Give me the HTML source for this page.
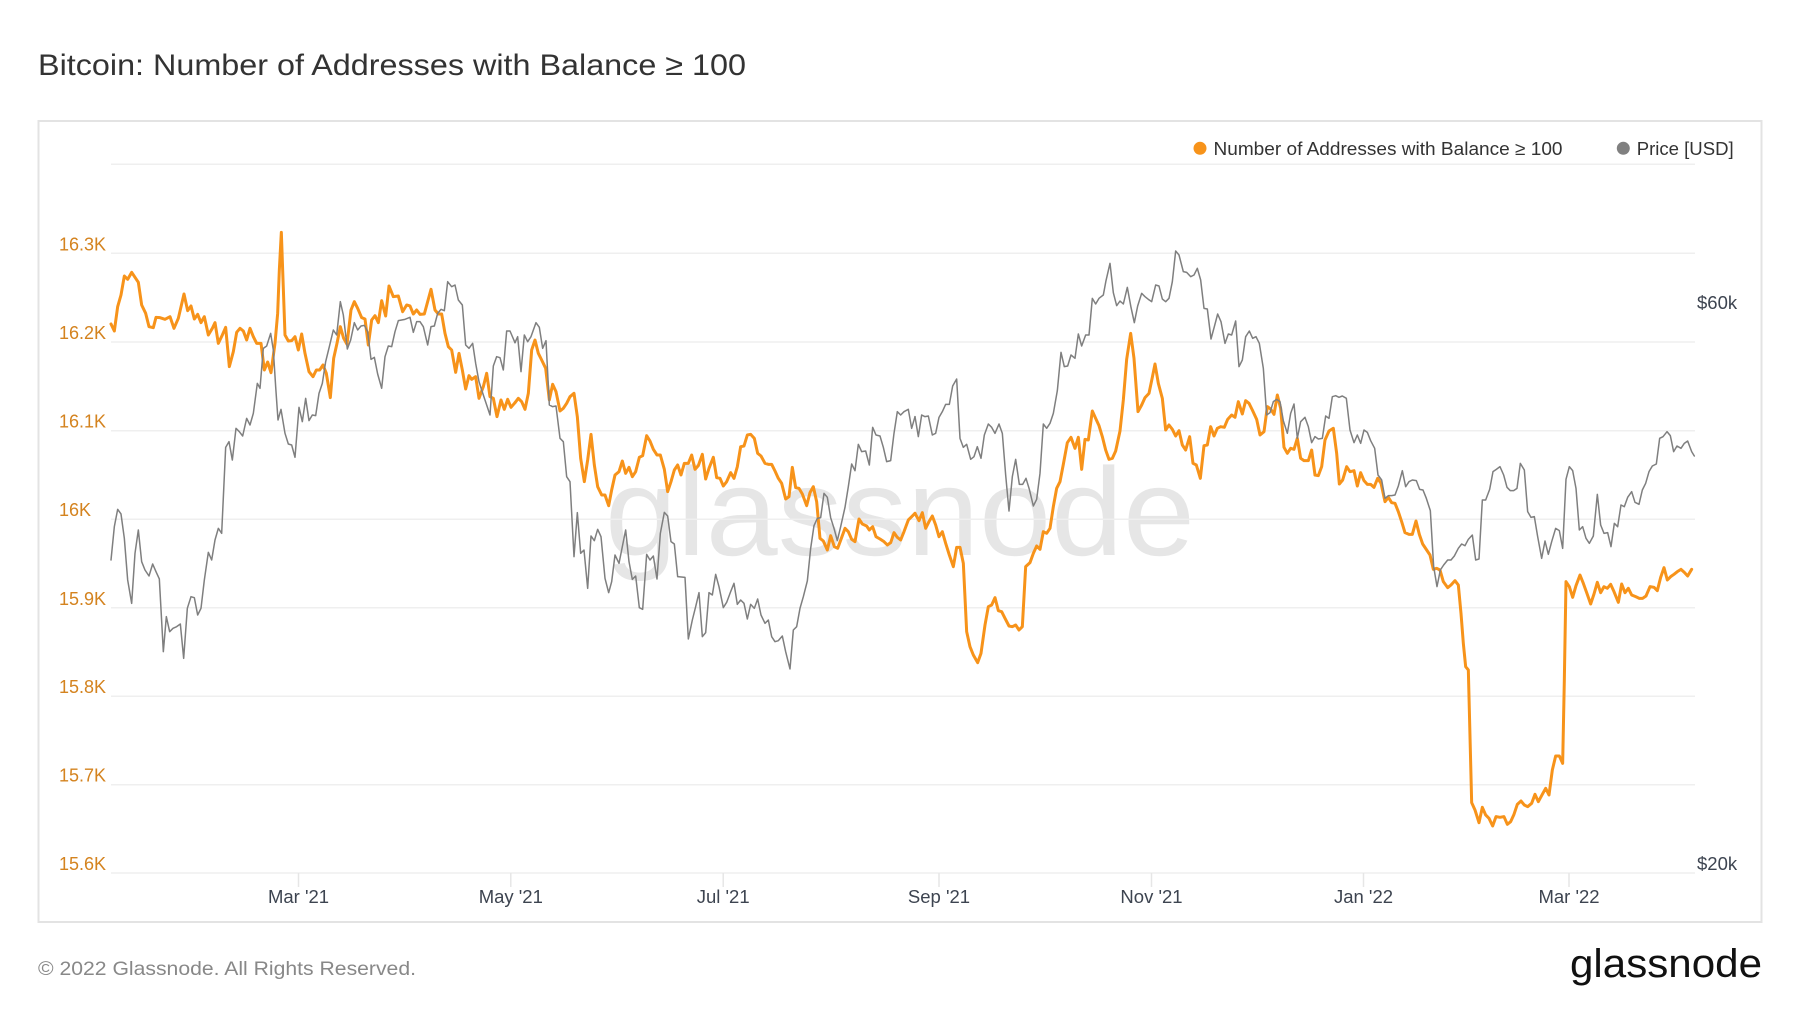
<!DOCTYPE html>
<html>
<head>
<meta charset="utf-8">
<style>
  html, body { margin: 0; padding: 0; background: #ffffff; }
  body { width: 1800px; height: 1013px; overflow: hidden; }
  svg { display: block; font-family: "Liberation Sans", Arial, sans-serif; }
</style>
</head>
<body>
<svg width="1800" height="1013" viewBox="0 0 1800 1013" xmlns="http://www.w3.org/2000/svg">
  <rect x="0" y="0" width="1800" height="1013" fill="#ffffff"/>

  <!-- Title -->
  <text x="38" y="75" font-size="30" fill="#333333" textLength="708" lengthAdjust="spacingAndGlyphs">Bitcoin: Number of Addresses with Balance ≥ 100</text>

  <!-- Frame -->
  <rect x="38.5" y="121" width="1723" height="801" fill="#ffffff" stroke="#e3e3e3" stroke-width="2"/>

  <!-- Watermark -->
  <text x="605" y="555" font-size="125" fill="#e6e6e6" textLength="590" lengthAdjust="spacingAndGlyphs">glassnode</text>

  <!-- Gridlines -->
  <g stroke="#efefef" stroke-width="1.5">
    <line x1="111" y1="164.2" x2="1695" y2="164.2"/>
    <line x1="111" y1="253.3" x2="1695" y2="253.3"/>
    <line x1="111" y1="342" x2="1695" y2="342"/>
    <line x1="111" y1="430.7" x2="1695" y2="430.7"/>
    <line x1="111" y1="519.2" x2="1695" y2="519.2"/>
    <line x1="111" y1="607.8" x2="1695" y2="607.8"/>
    <line x1="111" y1="696.2" x2="1695" y2="696.2"/>
    <line x1="111" y1="784.7" x2="1695" y2="784.7"/>
    <line x1="111" y1="873" x2="1695" y2="873"/>
  </g>

  <!-- X ticks -->
  <g stroke="#e6e6e6" stroke-width="1.5">
    <line x1="298.5" y1="873" x2="298.5" y2="887"/>
    <line x1="510.8" y1="873" x2="510.8" y2="887"/>
    <line x1="723.2" y1="873" x2="723.2" y2="887"/>
    <line x1="939" y1="873" x2="939" y2="887"/>
    <line x1="1151.5" y1="873" x2="1151.5" y2="887"/>
    <line x1="1363.5" y1="873" x2="1363.5" y2="887"/>
    <line x1="1569" y1="873" x2="1569" y2="887"/>
  </g>

  <!-- X labels -->
  <g font-size="18.5" fill="#3d4450" text-anchor="middle">
    <text x="298.5" y="903">Mar '21</text>
    <text x="510.8" y="903">May '21</text>
    <text x="723.2" y="903">Jul '21</text>
    <text x="939" y="903">Sep '21</text>
    <text x="1151.5" y="903">Nov '21</text>
    <text x="1363.5" y="903">Jan '22</text>
    <text x="1569" y="903">Mar '22</text>
  </g>

  <!-- Left axis labels -->
  <g font-size="18" fill="#d4831f">
    <text x="59" y="250.5">16.3K</text>
    <text x="59" y="339">16.2K</text>
    <text x="59" y="427.7">16.1K</text>
    <text x="59" y="516.2">16K</text>
    <text x="59" y="604.8">15.9K</text>
    <text x="59" y="693.2">15.8K</text>
    <text x="59" y="781.7">15.7K</text>
    <text x="59" y="870">15.6K</text>
  </g>

  <!-- Right axis labels -->
  <g font-size="18.5" fill="#3d4450">
    <text x="1697" y="309">$60k</text>
    <text x="1697" y="870">$20k</text>
  </g>

  <!-- Legend -->
  <circle cx="1200" cy="148.3" r="6.5" fill="#f7931a"/>
  <text x="1213.5" y="155" font-size="18.5" fill="#333333" textLength="349" lengthAdjust="spacingAndGlyphs">Number of Addresses with Balance ≥ 100</text>
  <circle cx="1623.3" cy="148.3" r="6.5" fill="#808080"/>
  <text x="1636.7" y="155" font-size="18.5" fill="#333333" textLength="97" lengthAdjust="spacingAndGlyphs">Price [USD]</text>

  <!-- ORANGE series -->
  <g fill="none" stroke="#f7931a" stroke-width="3" stroke-linejoin="round" stroke-linecap="round">
    <polyline vector-effect="non-scaling-stroke" transform="translate(105,220) scale(0.33333)" points="18,312 28,333 38,260 48,225 58,168 68,178 80,157 90,172 100,187 110,255 122,280 132,320 145,323 153,292 165,293 180,298 195,290 207,325 220,295 237,222 248,272 258,258 268,297 278,283 288,308 298,290 310,345 322,325 330,308 340,370 352,345 362,322 373,440 385,395 395,337 405,325 415,333 425,360 435,325 445,350 455,370 468,370 478,450 488,426 498,458 510,370 518,280 523,150 529,37 533,150 540,345 550,363 560,362 570,350 580,390 590,342 600,400 612,455 624,470 634,450 644,450 654,435 664,460 676,533 686,415 696,370 706,320 716,355 726,373 738,270 748,245 758,265 770,293 780,297 790,375 800,300 810,287 820,308 830,242 842,288 852,198 865,230 880,228 893,275 905,255 915,258 925,282 935,270 945,283 958,282 968,245 978,208 990,270 1000,282 1010,282 1020,340 1030,380 1040,390 1052,457 1062,400 1072,450 1082,507 1092,467 1100,478 1112,470 1122,535 1135,500 1145,460 1155,530 1165,535 1176,590 1188,540 1198,568 1208,538 1218,562 1230,548"/>
    <polyline vector-effect="non-scaling-stroke" transform="translate(505,220) scale(0.33333)" points="30,548 40,535 50,545 60,568 70,520 80,390 90,360 100,400 110,420 122,445 133,540 143,493 153,515 165,573 175,565 185,550 195,530 207,520 217,590 227,715 238,785 248,720 258,643 268,735 278,800 290,825 300,825 311,857 320,810 330,765 342,755 352,723 362,760 372,742 382,770 392,755 403,712 413,707 425,647 435,663 445,688 456,705 466,705 478,748 488,815 498,785 508,750 518,735 528,765 538,730 550,730 560,705 570,748 580,737 592,703 602,777 612,745 625,712 635,773 645,775 655,798 665,785 677,758 687,775 697,740 707,680 717,678 727,645 737,643 748,655 758,700 768,708 780,730 790,733 800,733 810,753 820,775 830,790 842,837 852,830 862,742 872,803 882,805 892,822 905,857 915,818 925,800 935,845 945,955 955,963 967,990 977,947 988,980 998,985 1008,958 1020,925 1030,935 1040,958 1050,965 1062,897 1072,912 1085,918 1093,930 1103,920 1113,950 1125,957 1137,965 1147,975 1157,968 1167,938 1177,952 1187,960 1197,935 1210,900 1220,890 1230,880"/>
    <polyline vector-effect="non-scaling-stroke" transform="translate(905,220) scale(0.33333)" points="30,880 42,902 52,878 62,925 72,905 82,888 92,915 102,950 112,935 122,970 133,1005 145,1040 155,982 165,982 175,1030 185,1235 195,1280 205,1305 218,1328 228,1300 240,1215 250,1160 260,1155 270,1133 280,1172 290,1175 300,1195 312,1218 322,1220 332,1215 342,1230 352,1220 362,1040 375,1028 385,1000 395,978 405,988 415,935 425,940 435,925 445,860 455,805 465,785 475,733 487,668 498,652 510,685 520,652 530,748 540,658 550,660 562,573 572,595 582,617 592,650 602,690 612,718 622,715 632,693 645,633 655,540 665,418 677,340 687,415 699,575 710,555 720,533 732,520 742,472 750,432 760,490 772,535 782,630 792,615 802,628 812,648 822,632 832,675 842,690 854,650 864,730 874,735 886,775 897,677 907,675 917,620 927,648 937,625 947,620 958,622 968,598 980,585 990,592 1000,545 1012,582 1022,542 1032,550 1042,570 1055,598 1065,645 1077,635 1087,560 1097,567 1107,583 1117,525 1127,565 1137,682 1147,700 1157,685 1167,688 1177,655 1187,715 1197,722 1210,722 1220,690 1230,765"/>
    <polyline vector-effect="non-scaling-stroke" transform="translate(1305,380) scale(0.33333)" points="30,285 40,287 50,260 60,180 72,153 85,145 95,220 103,312 113,300 125,260 135,275 147,272 157,318 167,278 177,302 187,313 197,313 207,322 218,295 228,310 240,365 250,352 260,368 270,370 280,395 290,425 300,458 312,463 322,463 333,423 343,463 353,492 363,507 375,525 385,568 395,565 405,570 415,605 428,623 438,615 450,602 460,615 468,700 475,790 482,860 490,870 500,1268 510,1290 522,1328 532,1282 542,1305 552,1315 563,1338 573,1310 585,1312 597,1310 607,1333 617,1325 627,1303 637,1273 648,1263 658,1275 668,1280 680,1270 690,1243 700,1265 712,1243 722,1225 732,1245 742,1170 752,1128 763,1128 773,1150 778,900 783,605 793,620 803,652 813,617 825,585 835,610 845,638 857,672 867,642 877,607 887,638 897,620 907,625 917,613 927,635 940,667 950,612 960,638 970,625 980,645 992,650 1003,655 1013,655 1023,648 1035,620 1047,622 1057,632 1067,592 1077,563 1087,600 1097,590 1107,583 1117,575 1128,568 1138,577 1148,588 1160,568"/>
  </g>

  <!-- GRAY price series -->
  <g fill="none" stroke="#7f7f7f" stroke-width="1.5" stroke-linejoin="round" stroke-linecap="round">
    <polyline vector-effect="non-scaling-stroke" transform="translate(105,220) scale(0.33333)" points="18,1020 28,920 38,868 48,882 58,955 68,1080 80,1150 90,1000 100,930 110,1025 120,1050 132,1068 143,1032 153,1055 163,1077 175,1295 184,1190 194,1235 204,1225 215,1220 226,1212 236,1315 247,1165 258,1130 268,1133 278,1185 288,1165 298,1080 310,997 320,1020 330,960 340,925 350,940 362,682 372,665 382,720 393,625 403,635 413,648 425,595 435,615 445,580 457,490 465,505 475,385 485,378 497,340 505,390 512,500 519,600 528,568 540,640 550,672 560,675 570,712 582,562 592,605 602,535 612,602 622,585 632,587 642,520 652,490 662,425 673,380 685,330 695,345 706,245 715,285 727,387 737,360 748,308 758,330 768,318 778,316 788,335 798,418 808,412 818,462 830,505 840,410 850,378 860,380 870,335 880,302 890,300 900,298 915,292 925,337 935,305 945,305 955,320 968,375 978,320 988,318 998,280 1008,268 1018,272 1028,185 1040,200 1050,195 1060,240 1072,255 1082,375 1092,385 1103,370 1112,430 1122,485 1135,525 1145,555 1155,585 1165,438 1175,410 1185,413 1195,450 1205,333 1215,333 1230,368"/>
    <polyline vector-effect="non-scaling-stroke" transform="translate(505,220) scale(0.33333)" points="30,368 38,350 48,455 58,345 68,365 78,350 93,308 103,322 113,385 123,362 133,555 143,560 153,558 165,655 175,665 185,770 195,785 207,1010 217,878 227,1000 237,990 248,1105 258,948 268,962 278,928 288,950 300,1075 311,1118 320,1085 330,1005 342,1030 352,980 362,930 372,1025 382,1078 392,1068 403,1163 413,1168 425,1003 435,1020 445,1008 456,1077 466,940 478,877 488,888 498,965 508,972 518,1070 540,1072 550,1257 562,1200 572,1160 582,1118 592,1250 602,1238 612,1118 622,1125 632,1063 642,1100 655,1163 665,1147 677,1115 687,1090 697,1153 707,1140 717,1150 727,1197 737,1153 748,1165 758,1137 768,1185 780,1210 790,1200 800,1250 810,1265 820,1262 832,1248 842,1295 855,1347 865,1230 875,1220 885,1165 895,1130 907,1083 917,985 927,917 937,895 947,893 957,820 967,832 977,893 987,925 997,962 1007,920 1020,862 1030,800 1040,732 1050,752 1060,673 1070,695 1082,693 1093,735 1103,622 1113,645 1125,648 1135,682 1145,725 1157,722 1167,640 1177,575 1187,585 1197,575 1210,568 1220,625 1230,590"/>
    <polyline vector-effect="non-scaling-stroke" transform="translate(905,220) scale(0.33333)" points="30,590 40,650 50,585 60,590 70,588 82,645 92,640 102,592 112,575 122,553 133,553 143,498 155,477 165,655 175,682 185,673 197,718 207,710 217,680 228,715 238,645 250,612 260,622 270,640 282,612 292,640 302,765 312,873 322,770 332,718 343,793 353,793 363,775 373,808 385,858 395,838 405,760 415,612 425,625 435,610 445,580 457,512 468,397 478,440 488,438 498,405 510,415 520,342 530,378 542,345 552,345 562,235 572,252 582,235 595,225 603,182 615,130 625,218 635,257 645,243 655,252 667,202 678,262 688,308 698,258 710,220 720,230 730,238 740,245 752,195 762,198 772,237 782,245 792,235 802,185 812,93 822,105 835,155 845,157 857,170 867,165 877,145 887,180 897,265 907,267 918,357 928,320 938,282 948,305 960,370 970,342 980,345 992,303 1002,440 1012,420 1022,350 1033,333 1043,355 1053,350 1063,370 1075,445 1085,585 1095,578 1105,545 1115,538 1125,545 1135,602 1147,640 1157,580 1167,552 1177,655 1187,605 1200,592 1210,620 1220,668 1230,650"/>
    <polyline vector-effect="non-scaling-stroke" transform="translate(1305,380) scale(0.33333)" points="30,170 40,177 52,175 62,108 72,115 82,50 92,47 102,52 112,48 124,55 135,150 147,188 157,165 167,190 177,150 187,157 197,182 209,205 219,285 230,300 240,355 250,347 260,347 270,345 280,318 292,272 302,320 312,305 322,300 334,302 344,328 354,330 364,355 376,392 386,560 396,620 406,570 416,555 428,540 438,540 448,528 460,505 470,492 480,497 490,478 502,465 512,540 522,537 532,360 542,360 554,328 564,275 574,268 585,260 596,285 606,322 616,332 626,332 636,325 646,250 658,270 668,395 678,412 688,410 698,470 710,535 720,483 730,523 740,485 752,445 763,452 773,505 783,298 793,260 803,272 813,325 823,450 833,440 843,475 853,490 865,468 877,343 887,435 897,460 908,458 918,500 928,430 938,440 948,375 958,380 968,352 980,335 990,367 1002,373 1012,330 1022,310 1032,275 1042,258 1054,252 1064,175 1074,170 1086,155 1096,167 1106,215 1116,198 1128,205 1138,190 1148,183 1160,215 1168,228"/>
  </g>

  <!-- Footer -->
  <text x="38" y="975" font-size="19.5" fill="#888888" textLength="378" lengthAdjust="spacingAndGlyphs">© 2022 Glassnode. All Rights Reserved.</text>
  <text x="1570" y="977" font-size="40" fill="#111111" textLength="192" lengthAdjust="spacingAndGlyphs">glassnode</text>
</svg>
</body>
</html>
